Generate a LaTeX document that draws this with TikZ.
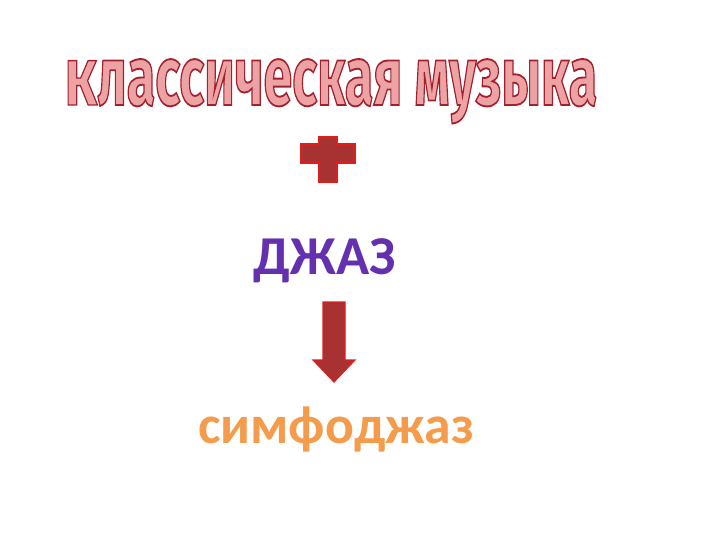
\documentclass[tikz,border=0pt]{standalone}
\usepackage{fontspec}
\setmainfont{Carlito}
\newfontfamily\titlefont{Fira Sans}
\definecolor{titlefill}{HTML}{EDA3A3}
\definecolor{plusfill}{HTML}{A83232}
\definecolor{plusline}{HTML}{E01E1E}
\definecolor{jazzcol}{HTML}{6530B0}
\definecolor{symcol}{HTML}{F49C4C}
\newcommand{\outlineon}{\special{pdf:literal direct 2 Tr 1.3 w 0.64 0.125 0.18 RG}}
\tikzset{
  titletext/.style={font=\titlefont\bfseries\fontsize{58}{60}\selectfont, inner sep=0pt, yscale=1.45, xscale=0.90, anchor=base},
  shapebox/.style={fill=plusfill, draw=plusline, line width=1.2bp, line join=miter},
}
\begin{document}
\begin{tikzpicture}[x=1bp,y=-1bp]
\useasboundingbox (0,0) rectangle (720,540);
% title
\node[titletext, text=titlefill] (title) at (331,105) {\scalebox{1}[0.765]{\outlineon К}\outlineon лассическая музыка};
% plus
\draw[shapebox] (319,137) -- (337,137) -- (337,144) -- (355,144) -- (355,163) -- (337,163) -- (337,182) -- (319,182) -- (319,163) -- (301,163) -- (301,144) -- (319,144) -- cycle;
% jazz
\node[font=\bfseries\fontsize{55}{58}\selectfont, text=jazzcol, inner sep=0pt, anchor=base] (jazz) at (325,275) {ДЖАЗ};
% arrow
\draw[shapebox] (323,302) -- (345,302) -- (345,360) -- (355,360) -- (334,382) -- (313,360) -- (323,360) -- cycle;
% symphojazz
\node[font=\bfseries\fontsize{54}{56}\selectfont, text=symcol, inner sep=0pt, anchor=base] (sym) at (336,443) {симфоджаз};
\end{tikzpicture}
\end{document}
